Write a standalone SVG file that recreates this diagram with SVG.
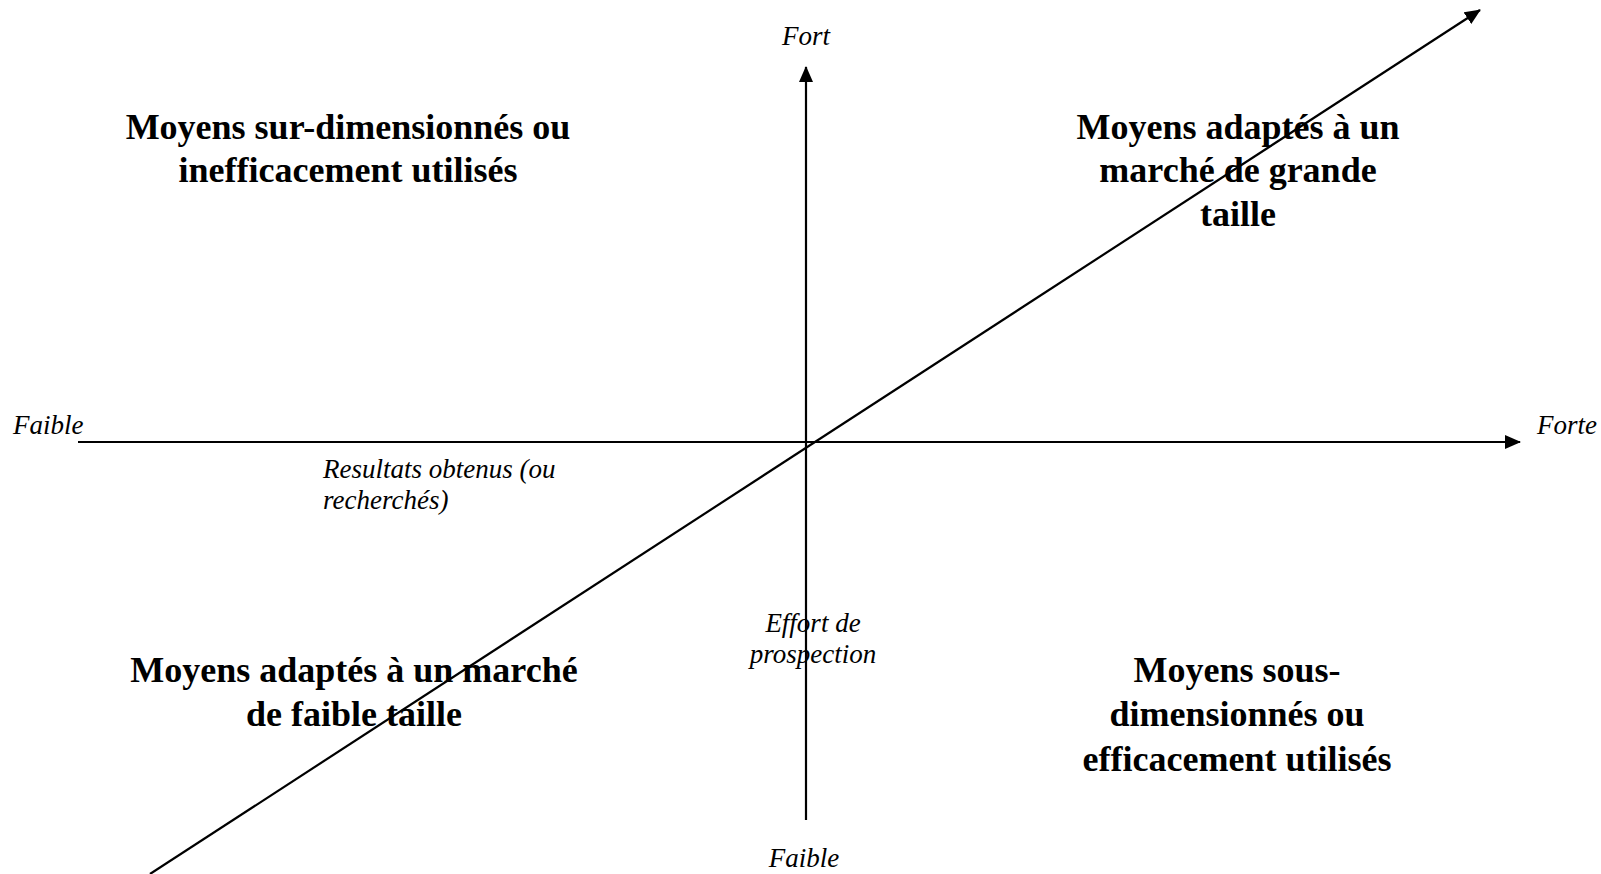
<svg xmlns="http://www.w3.org/2000/svg" width="1601" height="874" viewBox="0 0 1601 874">
  <style>
    .axis { stroke: #000; stroke-width: 2.2; fill: none; }
    .quad { font-family: "Liberation Serif", "Times New Roman", serif; font-weight: bold; font-size: 36px; fill: #000; text-anchor: middle; }
    .lbl { font-family: "Liberation Serif", "Times New Roman", serif; font-style: italic; font-size: 27px; fill: #000; }
  </style>
  <defs>
    <marker id="arrow" markerUnits="userSpaceOnUse" markerWidth="16" markerHeight="14" refX="15" refY="7" orient="auto">
      <path d="M0,0 L16,7 L0,14 Z" fill="#000"/>
    </marker>
  </defs>
  <rect width="1601" height="874" fill="#fff"/>

  <!-- axes and diagonal -->
  <g id="connectors">
    <line class="axis" x1="78" y1="442" x2="1520" y2="442" marker-end="url(#arrow)"/>
    <line class="axis" x1="806" y1="820" x2="806" y2="67" marker-end="url(#arrow)"/>
    <line class="axis" x1="150" y1="874" x2="1480" y2="10" marker-end="url(#arrow)"/>
  </g>

  <!-- axis end labels -->
  <g id="label-fort"><text class="lbl" x="806" y="45" text-anchor="middle">Fort</text></g>
  <g id="label-faible-bas"><text class="lbl" x="804" y="867" text-anchor="middle">Faible</text></g>
  <g id="label-faible-gauche"><text class="lbl" x="13" y="434">Faible</text></g>
  <g id="label-forte"><text class="lbl" x="1537" y="434">Forte</text></g>

  <!-- axis titles -->
  <g id="label-resultats">
    <text class="lbl" x="323" y="478">Resultats obtenus (ou</text>
    <text class="lbl" x="323" y="509">recherchés)</text>
  </g>
  <g id="label-effort">
    <text class="lbl" x="813" y="632" text-anchor="middle">Effort de</text>
    <text class="lbl" x="813" y="663" text-anchor="middle">prospection</text>
  </g>

  <!-- quadrant labels -->
  <g id="quad-haut-gauche">
    <text class="quad" x="348" y="139">Moyens sur-dimensionnés ou</text>
    <text class="quad" x="348" y="182">inefficacement utilisés</text>
  </g>
  <g id="quad-haut-droite">
    <text class="quad" x="1238" y="139">Moyens adaptés à un</text>
    <text class="quad" x="1238" y="182">marché de grande</text>
    <text class="quad" x="1238" y="226">taille</text>
  </g>
  <g id="quad-bas-gauche">
    <text class="quad" x="354" y="682">Moyens adaptés à un marché</text>
    <text class="quad" x="354" y="726">de faible taille</text>
  </g>
  <g id="quad-bas-droite">
    <text class="quad" x="1237" y="682">Moyens sous-</text>
    <text class="quad" x="1237" y="726">dimensionnés ou</text>
    <text class="quad" x="1237" y="771">efficacement utilisés</text>
  </g>
</svg>
